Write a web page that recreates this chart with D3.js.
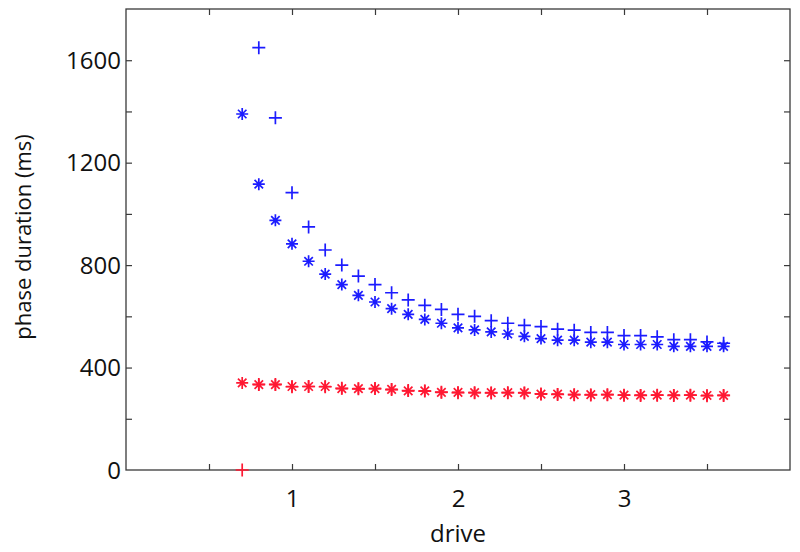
<!DOCTYPE html>
<html>
<head>
<meta charset="utf-8">
<script src="https://cdn.jsdelivr.net/npm/d3@7"></script>
<style>
  body { margin: 0; background: #fff; }
  svg text { font-family: "Open Sans", sans-serif; fill: #111; }
</style>
</head>
<body>
<div id="chart"></div>
<script>
var width = 800;
var height = 552;
var margin = { top: 9, right: 10, bottom: 82, left: 126 };

var drive = [0.7, 0.8, 0.9, 1.0, 1.1, 1.2, 1.3, 1.4, 1.5, 1.6,
             1.7, 1.8, 1.9, 2.0, 2.1, 2.2, 2.3, 2.4, 2.5, 2.6,
             2.7, 2.8, 2.9, 3.0, 3.1, 3.2, 3.3, 3.4, 3.5, 3.6];

var blueStar = [1390, 1116, 975, 883, 815, 765, 724, 682, 656, 630,
                608, 588, 573, 555, 547, 539, 531, 522, 513, 507,
                507, 499, 499, 490, 490, 490, 483, 483, 483, 483];
var bluePlus = [null, 1649, 1375, 1083, 949, 859, 800, 757, 724, 692,
                664, 643, 627, 608, 600, 583, 573, 565, 560, 550,
                546, 537, 537, 525, 525, 520, 509, 509, 500, 495];
var redStar = [340, 333, 333, 326, 326, 326, 318, 318, 318, 315,
               309, 309, 303, 303, 302, 302, 302, 302, 296, 296,
               294, 294, 294, 292, 292, 292, 292, 292, 291, 291];
var redPlus = [0, 334, 334, 325, 326, 325, 319, 317, 318, 314,
               310, 308, 304, 302, 302, 301, 302, 301, 297, 295,
               294, 293, 294, 292, 291, 292, 291, 292, 290, 291];

var xTicks = [0.5, 1, 1.5, 2, 2.5, 3, 3.5];
var xLabels = [1, 2, 3];
var yTicks = [200, 400, 600, 800, 1000, 1200, 1400, 1600];
var yLabels = [0, 400, 800, 1200, 1600];

var blue = '#1c1cff';
var red = '#ff1832';

var w = width - margin.left - margin.right;
var h = height - margin.top - margin.bottom;

var svg = d3.select('#chart')
    .append('svg')
    .attr('width', width)
    .attr('height', height);

var g = svg.append('g')
    .attr('transform', `translate(${margin.left}, ${margin.top})`);

var x = d3.scaleLinear().domain([0, 4]).range([0, w]);
var y = d3.scaleLinear().domain([0, 1800]).range([h, 0]);

// inward ticks on all four sides, like a boxed matlab axes
var axisColor = '#3a3a3a';
var tickLen = 6;

g.append('g')
    .attr('transform', `translate(0, ${h})`)
    .call(d3.axisBottom(x).tickValues(xTicks).tickSizeInner(-tickLen).tickSizeOuter(0)
        .tickFormat((d) => xLabels.indexOf(d) >= 0 ? d : ''))
    .call((a) => a.selectAll('text').attr('dy', '1.4em').style('font-size', '24px'));

g.append('g')
    .call(d3.axisTop(x).tickValues(xTicks).tickSizeInner(-tickLen).tickSizeOuter(0).tickFormat(''));

g.append('g')
    .call(d3.axisLeft(y).tickValues(yTicks).tickSizeInner(-tickLen).tickSizeOuter(0).tickFormat(''));

g.append('g')
    .attr('transform', `translate(${w}, 0)`)
    .call(d3.axisRight(y).tickValues(yTicks).tickSizeInner(-tickLen).tickSizeOuter(0).tickFormat(''));

g.selectAll('.ylab')
    .data(yLabels)
    .enter()
    .append('text')
    .attr('class', 'ylab')
    .attr('x', -5)
    .attr('y', (d) => y(d))
    .attr('dy', '0.36em')
    .attr('text-anchor', 'end')
    .style('font-size', '24px')
    .text((d) => d);

g.selectAll('.domain').remove();
g.selectAll('.tick line').attr('stroke', axisColor).attr('stroke-width', 1.2);

g.append('rect')
    .attr('width', w)
    .attr('height', h)
    .attr('fill', 'none')
    .attr('stroke', axisColor)
    .attr('stroke-width', 1.3);

var plusPath = (s) => `M${-s},0H${s}M0,${-s}V${s}`;
var starPath = (s) => {
    var k = s * 0.7071;
    return `M${-s},0H${s}M0,${-s}V${s}M${-k},${-k}L${k},${k}M${-k},${k}L${k},${-k}`;
};

function drawSeries(values, color, shape, size) {
    var pts = drive.map((d, i) => ({ x: d, v: values[i] })).filter((d) => d.v !== null);
    g.append('g')
        .selectAll('path')
        .data(pts)
        .enter()
        .append('path')
        .attr('transform', (d) => `translate(${x(d.x)}, ${y(d.v)})`)
        .attr('d', shape(size))
        .attr('fill', 'none')
        .attr('stroke', color)
        .attr('stroke-width', 1.7);
}

drawSeries(redPlus, red, plusPath, 6.5);
drawSeries(redStar, red, starPath, 6);
drawSeries(bluePlus, blue, plusPath, 6.5);
drawSeries(blueStar, blue, starPath, 6);

svg.append('text')
    .attr('x', margin.left + w / 2)
    .attr('y', 542)
    .attr('text-anchor', 'middle')
    .style('font-size', '24px')
    .text('drive');

svg.append('text')
    .attr('transform', `translate(31, 237) rotate(-90)`)
    .attr('text-anchor', 'middle')
    .style('font-size', '22px')
    .text('phase duration (ms)');
</script>
</body>
</html>
